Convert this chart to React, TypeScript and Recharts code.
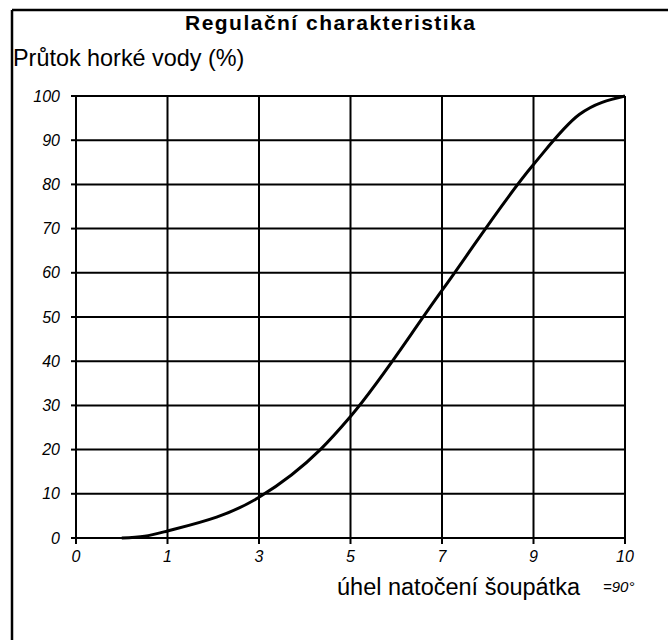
import React from 'react';
import { LineChart, Line, XAxis, YAxis, CartesianGrid } from 'recharts';

// x axis: evenly spaced grid columns, labelled with the valve positions
const tickLabels = ['0', '1', '3', '5', '7', '9', '10'];
const gridPositions = [0, 1, 2, 3, 4, 5, 6];
const flowTicks = [0, 10, 20, 30, 40, 50, 60, 70, 80, 90, 100];

// curve (position in grid columns, hot water flow %)
const curvePos = [0.5, 0.75, 1, 2, 2.67, 3, 4, 5, 5.5, 6];
const curveFlow = [0, 0.4, 1.6, 9.2, 20, 27.5, 56, 84.5, 95.8, 100];

const data = curvePos.map((pos, i) => ({ pos, flow: curveFlow[i] }));

const font = '"Liberation Sans", Arial, sans-serif';
const tickStyle = { fontFamily: font, fontSize: 16, fontStyle: 'italic', fill: '#000' };

export default function App() {
  return (
    <div style={{ position: 'absolute', left: 0, top: 0, width: 668, height: 640, background: '#fff' }}>
      <LineChart width={668} height={640} data={data} margin={{ top: 96, right: 43, bottom: 72, left: 0 }}>
        <CartesianGrid stroke="#000" strokeWidth={2} />
        <XAxis
          dataKey="pos"
          type="number"
          domain={[0, 6]}
          ticks={gridPositions}
          tickFormatter={(v: number) => tickLabels[v]}
          height={30}
          stroke="#000"
          strokeWidth={2}
          tickSize={6}
          tickMargin={7}
          fontSize={16}
          tick={tickStyle}
          interval={0}
        />
        <YAxis
          type="number"
          domain={[0, 100]}
          ticks={flowTicks}
          width={76}
          stroke="#000"
          strokeWidth={2}
          tickSize={5}
          tickMargin={11}
          fontSize={16}
          tick={tickStyle}
          interval={0}
        />
        <Line
          dataKey="flow"
          type="monotone"
          stroke="#000"
          strokeWidth={3}
          dot={false}
          isAnimationActive={false}
        />
      </LineChart>
      <svg width={668} height={640} style={{ position: 'absolute', left: 0, top: 0, pointerEvents: 'none' }}>
        <line x1={12} y1={10} x2={668} y2={10} stroke="#000" strokeWidth={2.5} />
        <line x1={12} y1={10} x2={12} y2={640} stroke="#000" strokeWidth={2.5} />
        <text x={185} y={30} fontFamily={font} fontSize={21} fontWeight="bold" textLength={290} lengthAdjust="spacing">
          Regulační charakteristika
        </text>
        <text x={13} y={66} fontFamily={font} fontSize={23.4}>
          Průtok horké vody (%)
        </text>
        <text x={337} y={595} fontFamily={font} fontSize={23.5}>
          úhel natočení šoupátka
        </text>
        <text x={603} y={592} fontFamily={font} fontSize={15} fontStyle="italic">
          =90°
        </text>
      </svg>
    </div>
  );
}
